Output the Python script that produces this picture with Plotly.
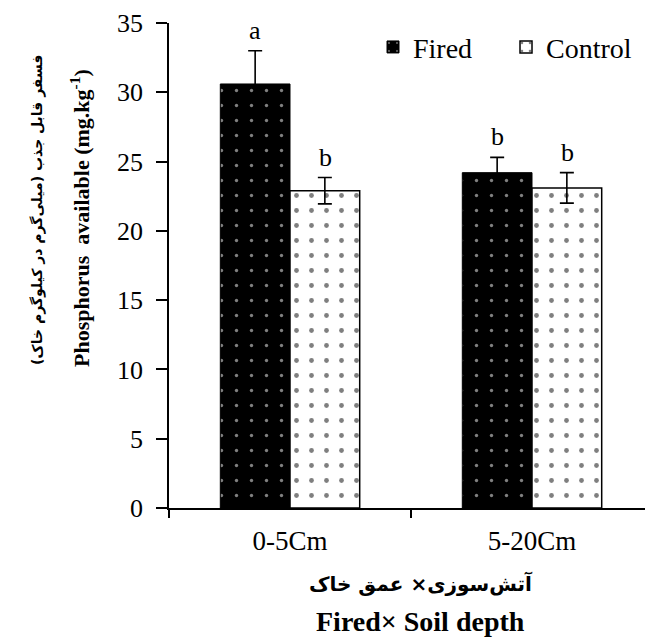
import plotly.graph_objects as go

depths = ["0-5Cm", "5-20Cm"]
fired_means = [30.6, 24.2]
fired_errors = [2.4, 1.1]
fired_letters = ["a", "b"]
control_means = [22.9, 23.1]
control_errors = [0.95, 1.1]
control_letters = ["b", "b"]

SERIF = "Liberation Serif, Times New Roman, serif"
PERSIAN = "DejaVu Sans, Noto Sans, sans-serif"

fig = go.Figure()

fig.add_trace(go.Bar(
    name="Fired",
    x=depths,
    y=fired_means,
    error_y=dict(type="data", array=fired_errors, color="black", thickness=1.6, width=7, symmetric=True),
    marker=dict(
        color="black",
        line=dict(color="black", width=1),
        pattern=dict(shape=".", fgcolor="white", bgcolor="black", size=15, solidity=0.04),
    ),
))
fig.add_trace(go.Bar(
    name="Control",
    x=depths,
    y=control_means,
    error_y=dict(type="data", array=control_errors, color="black", thickness=1.6, width=7, symmetric=True),
    marker=dict(
        color="white",
        line=dict(color="black", width=1.5),
        pattern=dict(shape=".", fgcolor="black", bgcolor="white", size=15, solidity=0.08),
    ),
))

# significance letters above the error bars
for i, d in enumerate(depths):
    fig.add_annotation(x=d, y=fired_means[i] + fired_errors[i], text=fired_letters[i],
                       xshift=-35, yshift=4, showarrow=False, yanchor="bottom",
                       font=dict(family=SERIF, size=26, color="black"))
    fig.add_annotation(x=d, y=control_means[i] + control_errors[i], text=control_letters[i],
                       xshift=35, yshift=4, showarrow=False, yanchor="bottom",
                       font=dict(family=SERIF, size=26, color="black"))

# axis titles (Persian + English)
fig.add_annotation(xref="paper", yref="paper", x=-0.273, y=0.614, textangle=-90,
                   xanchor="center", yanchor="middle",
                   text="<b>فسفر قابل جذب (میلی‌گرم در کیلوگرم خاک)</b>", showarrow=False,
                   font=dict(family=PERSIAN, size=14, color="black"))
fig.add_annotation(xref="paper", yref="paper", x=-0.184, y=0.598, textangle=-90,
                   xanchor="center", yanchor="middle",
                   text="<b>Phosphorus  available (mg.kg<sup>-1</sup>)</b>", showarrow=False,
                   font=dict(family=SERIF, size=22, color="black"))
fig.add_annotation(xref="paper", yref="paper", x=0.52, y=-0.155,
                   xanchor="center", yanchor="middle",
                   text="<b>آتش‌سوزی× عمق خاک</b>", showarrow=False,
                   font=dict(family=PERSIAN, size=20, color="black"))
fig.add_annotation(xref="paper", yref="paper", x=0.52, y=-0.235,
                   xanchor="center", yanchor="middle",
                   text="<b>Fired× Soil depth</b>", showarrow=False,
                   font=dict(family=SERIF, size=28, color="black"))

fig.update_layout(
    width=645,
    height=631,
    barmode="group",
    bargap=0.424,
    bargroupgap=0,
    plot_bgcolor="white",
    paper_bgcolor="white",
    margin=dict(l=161, r=0, t=15, b=131),
    font=dict(family=SERIF, size=26, color="black"),
    legend=dict(
        orientation="h",
        x=0.4215, y=0.95, xanchor="left", yanchor="middle",
        font=dict(family=SERIF, size=28, color="black"),
        bgcolor="rgba(0,0,0,0)",
        itemwidth=30,
        entrywidth=88,
    ),
    xaxis=dict(
        type="category",
        showline=True, linecolor="black", linewidth=1.5,
        ticks="outside", tickson="boundaries", ticklen=8, tickcolor="black", tickwidth=1.5,
        ticklabelstandoff=8,
        showgrid=False,
        tickfont=dict(family=SERIF, size=27, color="black"),
    ),
    yaxis=dict(
        range=[0, 35],
        dtick=5,
        showline=True, linecolor="black", linewidth=1.5,
        ticks="outside", ticklen=11, tickcolor="black", tickwidth=1.5,
        ticklabelstandoff=8,
        showgrid=False, zeroline=False,
        tickfont=dict(family=SERIF, size=26, color="black"),
    ),
)

fig.write_html("out.html")
